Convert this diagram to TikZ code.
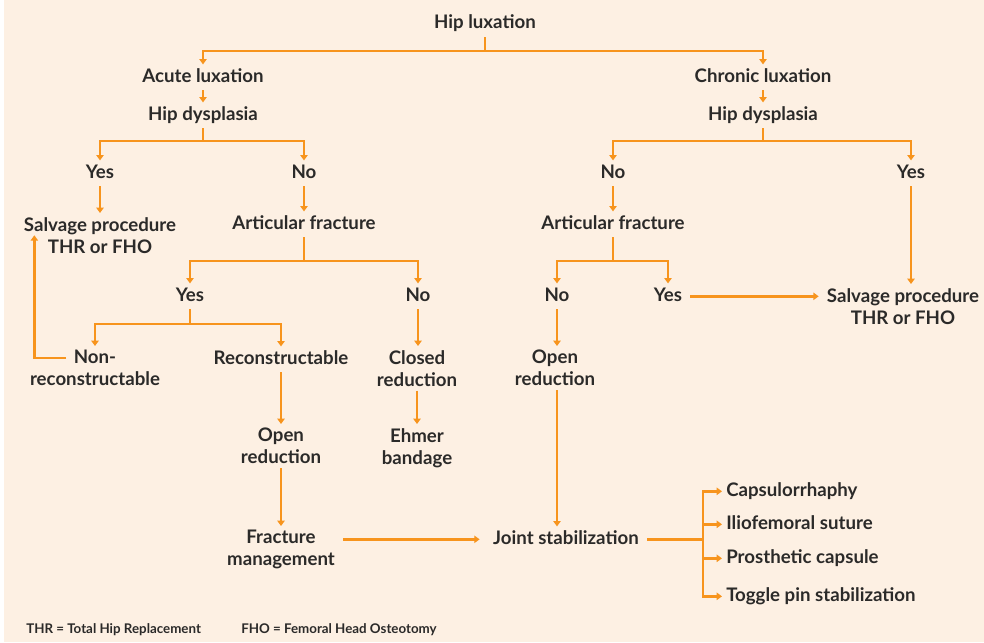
\documentclass[tikz,border=0pt]{standalone}
\usepackage{fontspec}
\setmainfont{Lato}
\usepackage{xcolor}
\usetikzlibrary{arrows.meta,positioning}

\definecolor{cream}{HTML}{FDF0E3}
\definecolor{flow}{HTML}{F7941D}
\definecolor{ink}{HTML}{2B2A29}

\begin{document}
\begin{tikzpicture}[x=0.75pt, y=-0.75pt,
    font=\bfseries\fontsize{14}{16.5}\selectfont, text=ink,
    >={Triangle[width=5.5pt,length=4pt]},
    lbl/.style={inner xsep=6pt, inner ysep=3pt, text height=10pt, text depth=3pt, anchor=base},
    lbls/.style={inner xsep=6pt, inner ysep=3pt, align=center, anchor=north},
    opt/.style={lbl, inner xsep=3pt, anchor=base west},
    note/.style={anchor=base west, inner sep=0pt, font=\bfseries\fontsize{10}{12}\selectfont},
    ln/.style={draw=flow, line width=1.8pt},
    arr/.style={ln, ->}]
    \useasboundingbox (0,0) rectangle (984,642);
    \fill[white] (0,0) rectangle (984,642);
    \fill[cream] (4,0) rectangle (984,642);
    % top levels
    \node[lbl] (hip) at (485,29) {Hip luxation};
    \node[lbl] (acute) at (203,82) {Acute luxation};
    \node[lbl] (chronic) at (763,82) {Chronic luxation};
    \node[lbl] (dysA) at (203,120) {Hip dysplasia};
    \node[lbl] (dysC) at (763,120) {Hip dysplasia};
    \node[lbl] (yesA) at (100,178) {Yes};
    \node[lbl] (noA) at (304,178) {No};
    \node[lbl] (noC) at (613,178) {No};
    \node[lbl] (yesC) at (911,178) {Yes};
    \node[lbls] (salvA) at (100,213) {Salvage procedure\\THR or FHO};
    \node[lbl] (fracA) at (304,229) {Articular fracture};
    \node[lbl] (fracC) at (613,229) {Articular fracture};
    % fracture branches
    \node[lbl] (yesB) at (190,301) {Yes};
    \node[lbl] (noB) at (418,301) {No};
    \node[lbl] (noD) at (557,301) {No};
    \node[lbl] (yesD) at (668,301) {Yes};
    \node[lbls] (salvC) at (903,284) {Salvage procedure\\THR or FHO};
    \node[lbls] (nonrec) at (95,346) {Non-\\reconstructable};
    \node[lbl] (recon) at (281,364) {Reconstructable};
    \node[lbls] (closed) at (417,346) {Closed\\reduction};
    \node[lbls] (openC) at (555,346) {Open\\reduction};
    \node[lbls] (ehmer) at (417,424) {Ehmer\\bandage};
    \node[lbls] (openA) at (281,424) {Open\\reduction};
    \node[lbls] (mgmt) at (281,526) {Fracture\\management};
    \node[lbl] (joint) at (566,544) {Joint stabilization};
    % stabilization options
    \coordinate[right=42pt of joint.east] (hub);
    \node[opt] (caps) at (722,496) {Capsulorrhaphy};
    \node[opt] (ilio) at (722,529) {Iliofemoral suture};
    \node[opt] (pros) at (722,563) {Prosthetic capsule};
    \node[opt] (toggle) at (722,601) {Toggle pin stabilization};
    \node[note] (thr) at (26,633) {THR = Total Hip Replacement};
    \node[note] (fho) at (241,633) {FHO = Femoral Head Osteotomy};

    \foreach \c in {acute,chronic} \draw[arr] (hip.south) -- ++(0,14) -| (\c.north);
    \draw[arr] (acute) -- (dysA);
    \draw[arr] (chronic) -- (dysC);
    \foreach \c in {yesA,noA} \draw[arr] (dysA.south) -- ++(0,13) -| (\c.north);
    \foreach \c in {noC,yesC} \draw[arr] (dysC.south) -- ++(0,13) -| (\c.north);
    \draw[arr] (yesA) -- (salvA);
    \draw[arr] (noA) -- (fracA);
    \draw[arr] (noC) -- (fracC);
    \foreach \c in {yesB,noB} \draw[arr] (fracA.south) -- ++(0,24) -| (\c.north);
    \foreach \c in {noD,yesD} \draw[arr] (fracC.south) -- ++(0,24) -| (\c.north);
    \foreach \c in {nonrec,recon} \draw[arr] (yesB.south) -- ++(0,15) -| (\c.north);
    \draw[arr] ([xshift=-21.75pt,yshift=-9pt]nonrec.north) -| ([xshift=14pt]salvA.west);
    \draw[arr] (noB.south) -- (noB.south |- closed.north);
    \draw[arr] (closed) -- (ehmer);
    \draw[arr] (recon) -- (openA);
    \draw[arr] (openA) -- (mgmt);
    \draw[arr, shorten >=4pt] (mgmt.east |- joint) -- (joint);
    \draw[arr] (yesC.south) -- (yesC.south |- salvC.north);
    \draw[arr] (yesD) -- (yesD -| salvC.west);
    \draw[arr] (noD.south) -- (noD.south |- openC.north);
    \draw[arr] (noD.south |- openC.south) -- (noD.south |- joint.north);
    \foreach \o in {caps,ilio,pros,toggle} \draw[arr] (joint.east) -- (hub) |- (\o.west);
\end{tikzpicture}
\end{document}
